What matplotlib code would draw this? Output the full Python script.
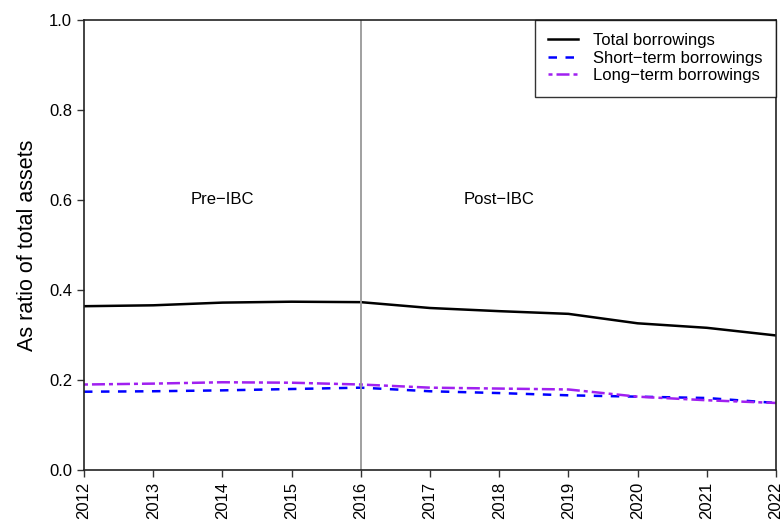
import matplotlib
matplotlib.use("Agg")
import matplotlib.pyplot as plt

years = [2012, 2013, 2014, 2015, 2016, 2017, 2018, 2019, 2020, 2021, 2022]
total_borrowings = [0.364, 0.366, 0.372, 0.374, 0.373, 0.360, 0.353, 0.347, 0.326, 0.316, 0.299]
short_term = [0.174, 0.175, 0.177, 0.180, 0.183, 0.175, 0.171, 0.166, 0.163, 0.160, 0.149]
long_term = [0.190, 0.192, 0.195, 0.194, 0.190, 0.183, 0.181, 0.179, 0.163, 0.155, 0.149]
yticks = [0.0, 0.2, 0.4, 0.6, 0.8, 1.0]

plt.rcParams["font.family"] = ["Liberation Sans", "DejaVu Sans"]

fig = plt.figure(figsize=(7.84, 5.23), dpi=100)
ax = fig.add_axes([0.1071, 0.1013, 0.8827, 0.8605])

ax.plot(years, total_borrowings, color="black", lw=1.8, label="Total borrowings")
ax.plot(years, short_term, color="#0000FF", lw=1.8, ls=(0, (3.4, 3.4)), label="Short\u2212term borrowings")
ax.plot(years, long_term, color="#A020F0", lw=1.8, ls=(0, (1.6, 1.6, 5.2, 1.6)), label="Long\u2212term borrowings")

ax.axvline(2016, color="#999999", lw=1.3)
ax.text(2014, 0.6, "Pre\u2212IBC", ha="center", va="center", fontsize=12)
ax.text(2018, 0.6, "Post\u2212IBC", ha="center", va="center", fontsize=12)

ax.set_xlim(years[0], years[-1])
ax.set_ylim(0, 1)
ax.set_xticks(years)
ax.set_xticklabels([str(y) for y in years], rotation=90, fontsize=12)
ax.set_yticks(yticks)
ax.set_yticklabels([f"{t:.1f}" for t in yticks], fontsize=12)
ax.tick_params(direction="out", length=5, width=1, color="#333333")
ax.set_ylabel("As ratio of total assets", fontsize=15.5, labelpad=8)
for side in ax.spines.values():
    side.set_linewidth(1.2)
    side.set_color("#222222")

leg = ax.legend(loc="upper right", fontsize=12, frameon=True, fancybox=False,
                borderaxespad=0, handlelength=1.8, labelspacing=0.15,
                borderpad=0.8, handletextpad=0.9)
leg.get_frame().set_edgecolor("black")
leg.get_frame().set_linewidth(1.0)

fig.savefig("out.png", dpi=100)
